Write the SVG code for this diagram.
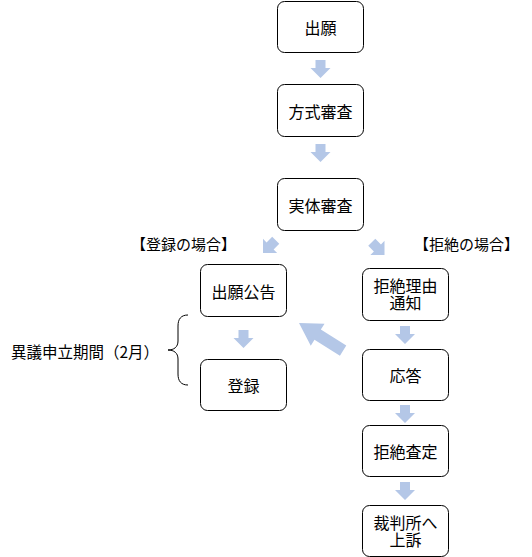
<svg xmlns="http://www.w3.org/2000/svg" width="532" height="557" viewBox="0 0 532 557">
<style>
.box{fill:#fff;stroke:#000;stroke-width:1}
.t{font-family:"Noto Sans CJK JP","Noto Sans",sans-serif;font-size:16px;fill:#000;text-anchor:middle;dominant-baseline:central}
.l{font-family:"Noto Sans CJK JP","Noto Sans",sans-serif;font-size:15px;fill:#000;dominant-baseline:central}
.arr{fill:#b4c7e7}
</style>
<defs>
<polygon id="da" points="-5,-18 5,-18 5,-10 10,-10 0,0 -10,-10 -5,-10"/>
</defs>
<rect width="532" height="557" fill="#fff"/>
<g id="connectors" class="arr">
<use href="#da" x="320.5" y="78"/>
<use href="#da" x="320.5" y="162"/>
<use href="#da" transform="translate(263,253) rotate(45)"/>
<use href="#da" transform="translate(384.5,255) rotate(-45)"/>
<use href="#da" x="243.5" y="348"/>
<use href="#da" x="405" y="344"/>
<use href="#da" x="405" y="423"/>
<use href="#da" x="405" y="500"/>
<polygon points="0,0 22,-13 22,-6 52,-6 52,6 22,6 22,13" transform="translate(299,323) rotate(32)"/>
<path d="M188,315 C181,315 178,319 178,326 L178,341 C178,347 174,350 168,350 C174,350 178,353 178,359 L178,374 C178,381 181,385 188,385" fill="none" stroke="#000" stroke-width="1"/>
</g>
<g id="n1"><rect class="box" x="277.5" y="1.5" width="86" height="51" rx="7"/><text class="t" x="320.5" y="27">出願</text></g>
<g id="n2"><rect class="box" x="277.5" y="84.5" width="86" height="52" rx="7"/><text class="t" x="320.5" y="110.5">方式審査</text></g>
<g id="n3"><rect class="box" x="277.5" y="178.5" width="86" height="52" rx="7"/><text class="t" x="320.5" y="204.5">実体審査</text></g>
<g id="lbl1"><text class="l" x="131" y="243">【登録の場合】</text></g>
<g id="lbl2"><text class="l" x="414" y="243">【拒絶の場合】</text></g>
<g id="n4"><rect class="box" x="200.5" y="264.5" width="86" height="52" rx="7"/><text class="t" x="243.5" y="290.5">出願公告</text></g>
<g id="n5"><rect class="box" x="200.5" y="359.5" width="86" height="51" rx="7"/><text class="t" x="243.5" y="385">登録</text></g>
<g id="n6"><rect class="box" x="362.5" y="268.5" width="86" height="52" rx="7"/><text class="t" x="405.5" y="285">拒絶理由</text><text class="t" x="405.5" y="302">通知</text></g>
<g id="n7"><rect class="box" x="362.5" y="349.5" width="86" height="51" rx="7"/><text class="t" x="405.5" y="375">応答</text></g>
<g id="n8"><rect class="box" x="362.5" y="425.5" width="86" height="51" rx="7"/><text class="t" x="405.5" y="451">拒絶査定</text></g>
<g id="n9"><rect class="box" x="362.5" y="505.5" width="86" height="51" rx="7"/><text class="t" x="405.5" y="521.5">裁判所へ</text><text class="t" x="405.5" y="538.5">上訴</text></g>
<g id="lbl3"><text class="l" x="11" y="351" style="font-size:15.5px">異議申立期間（2月）</text></g>
</svg>
